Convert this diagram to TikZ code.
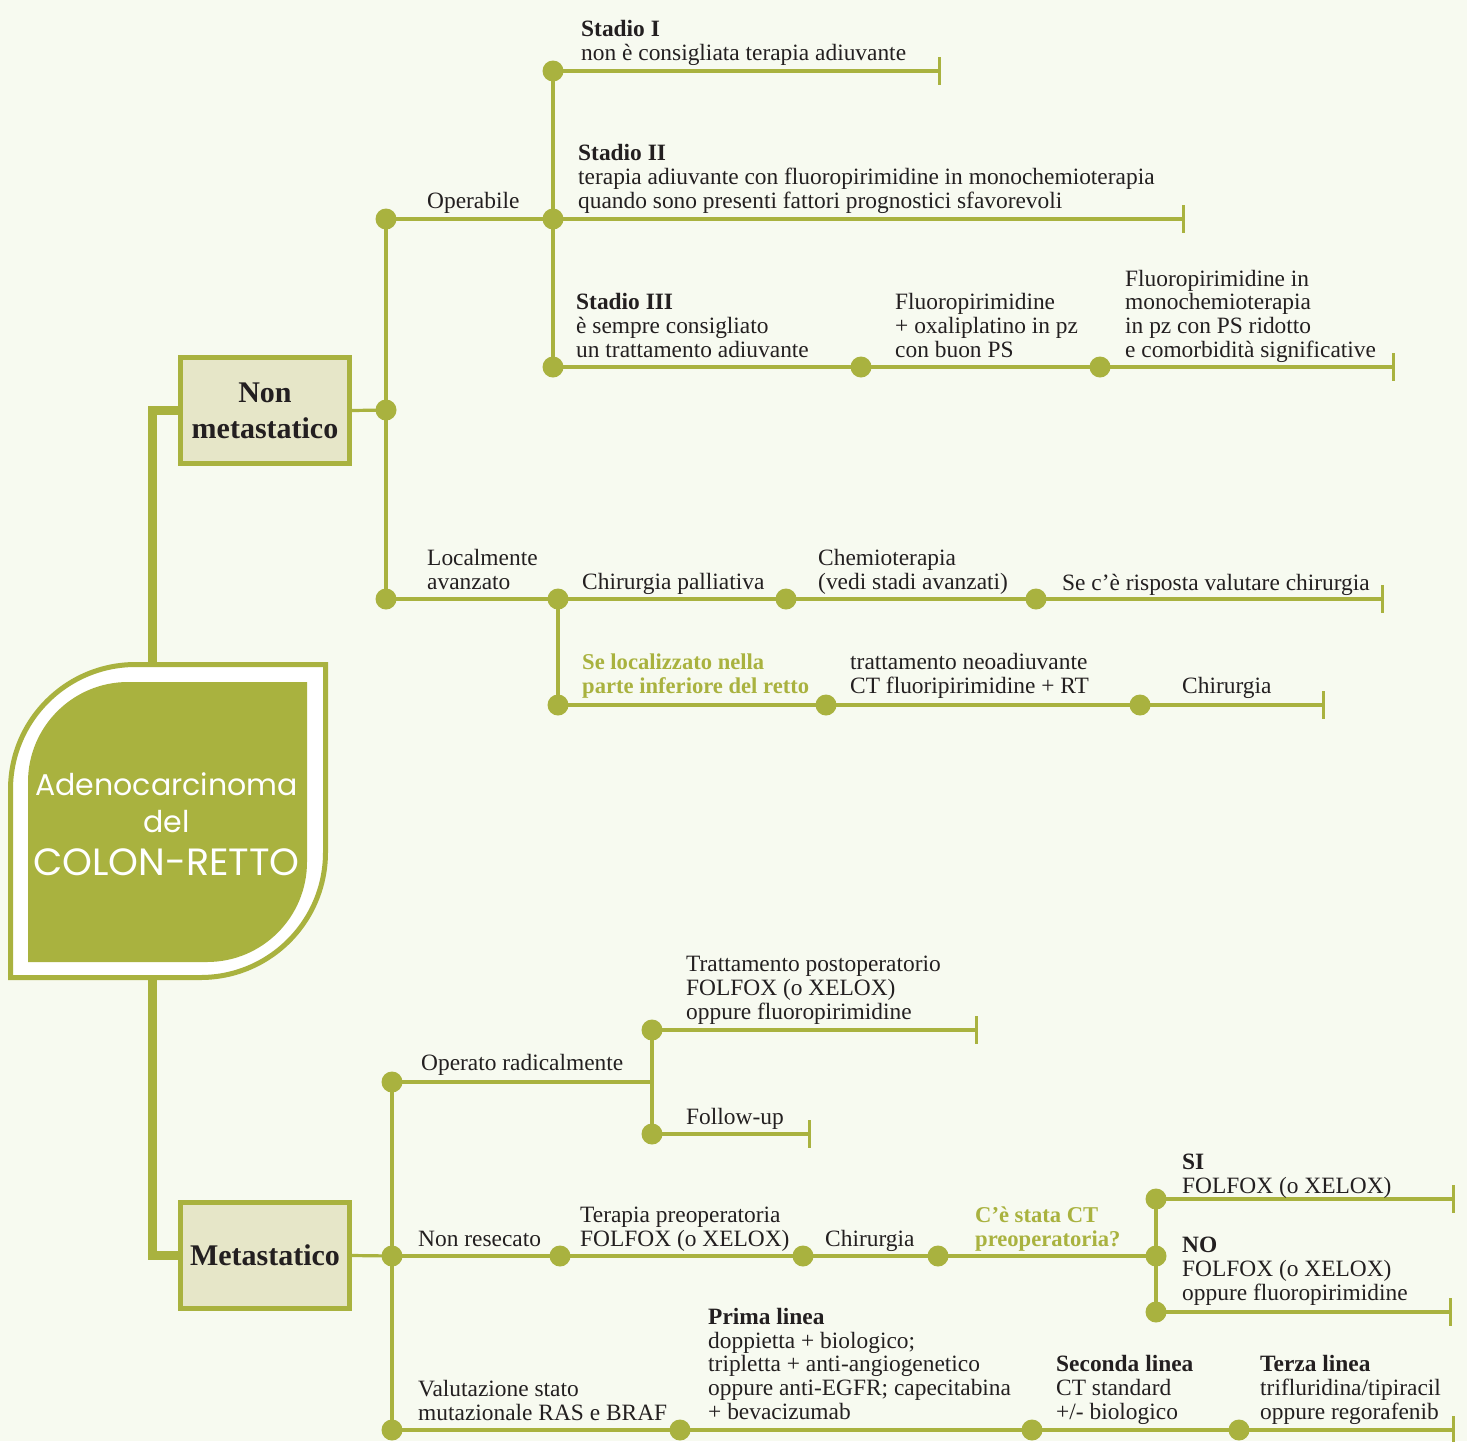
\documentclass[tikz,border=0pt]{standalone}
\usepackage{fontspec}
\setmainfont{Liberation Serif}
\newfontfamily\leaffont{Poppins}
\usetikzlibrary{arrows.meta}
\pgfdeclarelayer{background}
\pgfsetlayers{background,main}
\definecolor{grn}{HTML}{A9B23F}
\definecolor{bgc}{HTML}{F7FAF0}
\definecolor{boxc}{HTML}{E6E6C8}
\definecolor{txt}{HTML}{231F20}
\newcommand\ml[1]{\begin{tabular}[b]{@{}l@{}}#1\end{tabular}}
\tikzset{
 conn/.style={draw=grn, line width=3.2pt},
 endbar/.style={conn, -{Bar[width=28pt]}},
 dot/.style={circle, fill=grn, inner sep=0pt, minimum size=21pt},
 lbl/.style={anchor=base west, inner sep=0pt, text=txt, font=\fontsize{23.4}{23.6}\selectfont},
 glbl/.style={lbl, text=grn, font=\fontsize{22.6}{23.6}\selectfont\bfseries},
 catbox/.style={draw=grn, fill=boxc, line width=5pt, minimum width=169pt, minimum height=106pt, inner sep=0pt, font=\fontsize{30}{36}\selectfont\bfseries, text=txt, align=center},
 trunk/.style={draw=grn, line width=8.5pt},
 leaftxt/.style={anchor=base, inner sep=0pt, text=white},
}
\begin{document}
\begin{tikzpicture}[x=1pt,y=-1pt]
\useasboundingbox (0,0) rectangle (1467,1441);

% leaf anchor points
\coordinate (leaftop) at (152.5,662);
\coordinate (leafbot) at (152.5,980);

% category boxes
\node[catbox] (NM) at (265,410.5) {Non\\metastatico};
\node[catbox] (M) at (265,1255.5) {Metastatico};

% background and trunk
\begin{pgfonlayer}{background}
\fill[bgc] (0,0) rectangle (1467,1441);
\draw[trunk] (NM.west) -| (leaftop);
\draw[trunk] (leafbot) |- (M.west);
\end{pgfonlayer}

% leaf
\filldraw[draw=grn, fill=white, line width=5pt]
  (10.5,789.5) -- (10.5,977.5) -- (200.5,977.5)
  .. controls (269.5,977.5) and (325.5,921.5) .. (325.5,852.5)
  -- (325.5,664.5) -- (135.5,664.5)
  .. controls (66.5,664.5) and (10.5,720.5) .. (10.5,789.5) -- cycle;
\fill[grn]
  (28,782) -- (28,962) -- (207,962)
  .. controls (262.2,962) and (307,917.2) .. (307,862)
  -- (307,682) -- (128,682)
  .. controls (72.8,682) and (28,726.8) .. (28,782) -- cycle;
\node[leaftxt, font=\leaffont\fontsize{30}{36}\selectfont] (title1) at (166.5,795) {Adenocarcinoma};
\node[leaftxt, font=\leaffont\fontsize{30}{36}\selectfont] (title2) at (166.5,832) {del};
\node[leaftxt, font=\leaffont\fontsize{38}{44}\selectfont] (title3) at (166.5,875) {COLON-RETTO};

% ---------- upper dots ----------
\node[dot] (n0) at (386,410) {};
\node[dot] (op) at (386,219) {};
\node[dot] (loc) at (386,599) {};
\node[dot] (s1) at (553,71) {};
\node[dot] (s2) at (553,219) {};
\node[dot] (s3) at (553,367) {};
\node[dot] (s3a) at (861,367) {};
\node[dot] (s3b) at (1100,367) {};
\coordinate (e1) at (941,71);
\coordinate (e2) at (1185,219);
\coordinate (e3) at (1395,367);
\node[dot] (l1) at (558,599) {};
\node[dot] (l2) at (786,599) {};
\node[dot] (l3) at (1036,599) {};
\coordinate (el1) at (1384,599);
\node[dot] (l4) at (558,705) {};
\node[dot] (l5) at (826,705) {};
\node[dot] (l6) at (1140,705) {};
\coordinate (el2) at (1325,705);

% ---------- lower dots ----------
\node[dot] (m0) at (392,1256) {};
\node[dot] (or) at (392,1082) {};
\node[dot] (va) at (392,1430) {};
\coordinate (j) at (652,1082);
\node[dot] (o1) at (652,1030) {};
\node[dot] (o2) at (652,1134) {};
\coordinate (eo1) at (978,1030);
\coordinate (eo2) at (811,1134);
\node[dot] (r1) at (560,1256) {};
\node[dot] (r2) at (803,1256) {};
\node[dot] (r3) at (938,1256) {};
\node[dot] (r4) at (1156,1256) {};
\node[dot] (si) at (1156,1199) {};
\node[dot] (no) at (1156,1312) {};
\coordinate (esi) at (1455,1199);
\coordinate (eno) at (1452,1312);
\node[dot] (v1) at (680,1430) {};
\node[dot] (v2) at (1032,1430) {};
\node[dot] (v3) at (1239,1430) {};
\coordinate (ev) at (1455,1430);

% ---------- upper connectors ----------
\draw[conn] (NM.east) -- (n0.center);
\draw[conn] (op.center) -- (loc.center);
\draw[conn] (op.center) -- (s2.center);
\draw[conn] (s1.center) -- (s3.center);
\draw[endbar] (s1.center) -- (e1);
\draw[endbar] (s2.center) -- (e2);
\draw[endbar] (s3.center) -- (s3a.center) -- (s3b.center) -- (e3);
\draw[endbar] (loc.center) -- (l1.center) -- (l2.center) -- (l3.center) -- (el1);
\draw[conn] (l1.center) -- (l4.center);
\draw[endbar] (l4.center) -- (l5.center) -- (l6.center) -- (el2);

% ---------- lower connectors ----------
\draw[conn] (M.east) -- (m0.center);
\draw[conn] (or.center) -- (va.center);
\draw[conn] (or.center) -- (j);
\draw[conn] (o1.center) -- (o2.center);
\draw[endbar] (o1.center) -- (eo1);
\draw[endbar] (o2.center) -- (eo2);
\draw[conn] (m0.center) -- (r1.center) -- (r2.center) -- (r3.center) -- (r4.center);
\draw[conn] (si.center) -- (no.center);
\draw[endbar] (si.center) -- (esi);
\draw[endbar] (no.center) -- (eno);
\draw[endbar] (va.center) -- (v1.center) -- (v2.center) -- (v3.center) -- (ev);

% ---------- upper labels ----------
\node[lbl] (t1) at (581,60) {\ml{\textbf{Stadio I}\\non è consigliata terapia adiuvante}};
\node[lbl] (t2) at (578,208) {\ml{\textbf{Stadio II}\\terapia adiuvante con fluoropirimidine in monochemioterapia\\quando sono presenti fattori prognostici sfavorevoli}};
\node[lbl] (top) at (427,208) {Operabile};
\node[lbl] (t3) at (576,357) {\ml{\textbf{Stadio III}\\è sempre consigliato\\un trattamento adiuvante}};
\node[lbl] (t4) at (895,357) {\ml{Fluoropirimidine\\+ oxaliplatino in pz\\con buon PS}};
\node[lbl] (t5) at (1125,357) {\ml{Fluoropirimidine in\\monochemioterapia\\in pz con PS ridotto\\e comorbidità significative}};
\node[lbl] (tloc) at (427,589) {\ml{Localmente\\avanzato}};
\node[lbl] (tl1) at (582,589) {Chirurgia palliativa};
\node[lbl] (tl2) at (818,589) {\ml{Chemioterapia\\(vedi stadi avanzati)}};
\node[lbl] (tl3) at (1062,590) {Se c’è risposta valutare chirurgia};
\node[glbl] (tl4) at (582,693) {\ml{Se localizzato nella\\parte inferiore del retto}};
\node[lbl] (tl5) at (850,693) {\ml{trattamento neoadiuvante\\CT fluoripirimidine + RT}};
\node[lbl] (tl6) at (1182,693) {Chirurgia};

% ---------- lower labels ----------
\node[lbl] (to1) at (686,1019) {\ml{Trattamento postoperatorio\\FOLFOX (o XELOX)\\oppure fluoropirimidine}};
\node[lbl] (tor) at (421,1070) {Operato radicalmente};
\node[lbl] (to2) at (686,1124) {Follow-up};
\node[lbl] (tnr) at (418,1246) {Non resecato};
\node[lbl] (tr1) at (580,1246) {\ml{Terapia preoperatoria\\FOLFOX (o XELOX)}};
\node[lbl] (tr2) at (825,1246) {Chirurgia};
\node[glbl] (tr3) at (975,1246) {\ml{C’è stata CT\\preoperatoria?}};
\node[lbl] (tsi) at (1182,1193) {\ml{\textbf{SI}\\FOLFOX (o XELOX)}};
\node[lbl] (tno) at (1182,1300) {\ml{\textbf{NO}\\FOLFOX (o XELOX)\\oppure fluoropirimidine}};
\node[lbl] (tva) at (418,1420) {\ml{Valutazione stato\\mutazionale RAS e BRAF}};
\node[lbl] (tv1) at (708,1419) {\ml{\textbf{Prima linea}\\doppietta + biologico;\\tripletta + anti-angiogenetico\\oppure anti-EGFR; capecitabina\\+ bevacizumab}};
\node[lbl] (tv2) at (1056,1419) {\ml{\textbf{Seconda linea}\\CT standard\\+/- biologico}};
\node[lbl] (tv3) at (1260,1419) {\ml{\textbf{Terza linea}\\trifluridina/tipiracil\\oppure regorafenib}};
\end{tikzpicture}
\end{document}
